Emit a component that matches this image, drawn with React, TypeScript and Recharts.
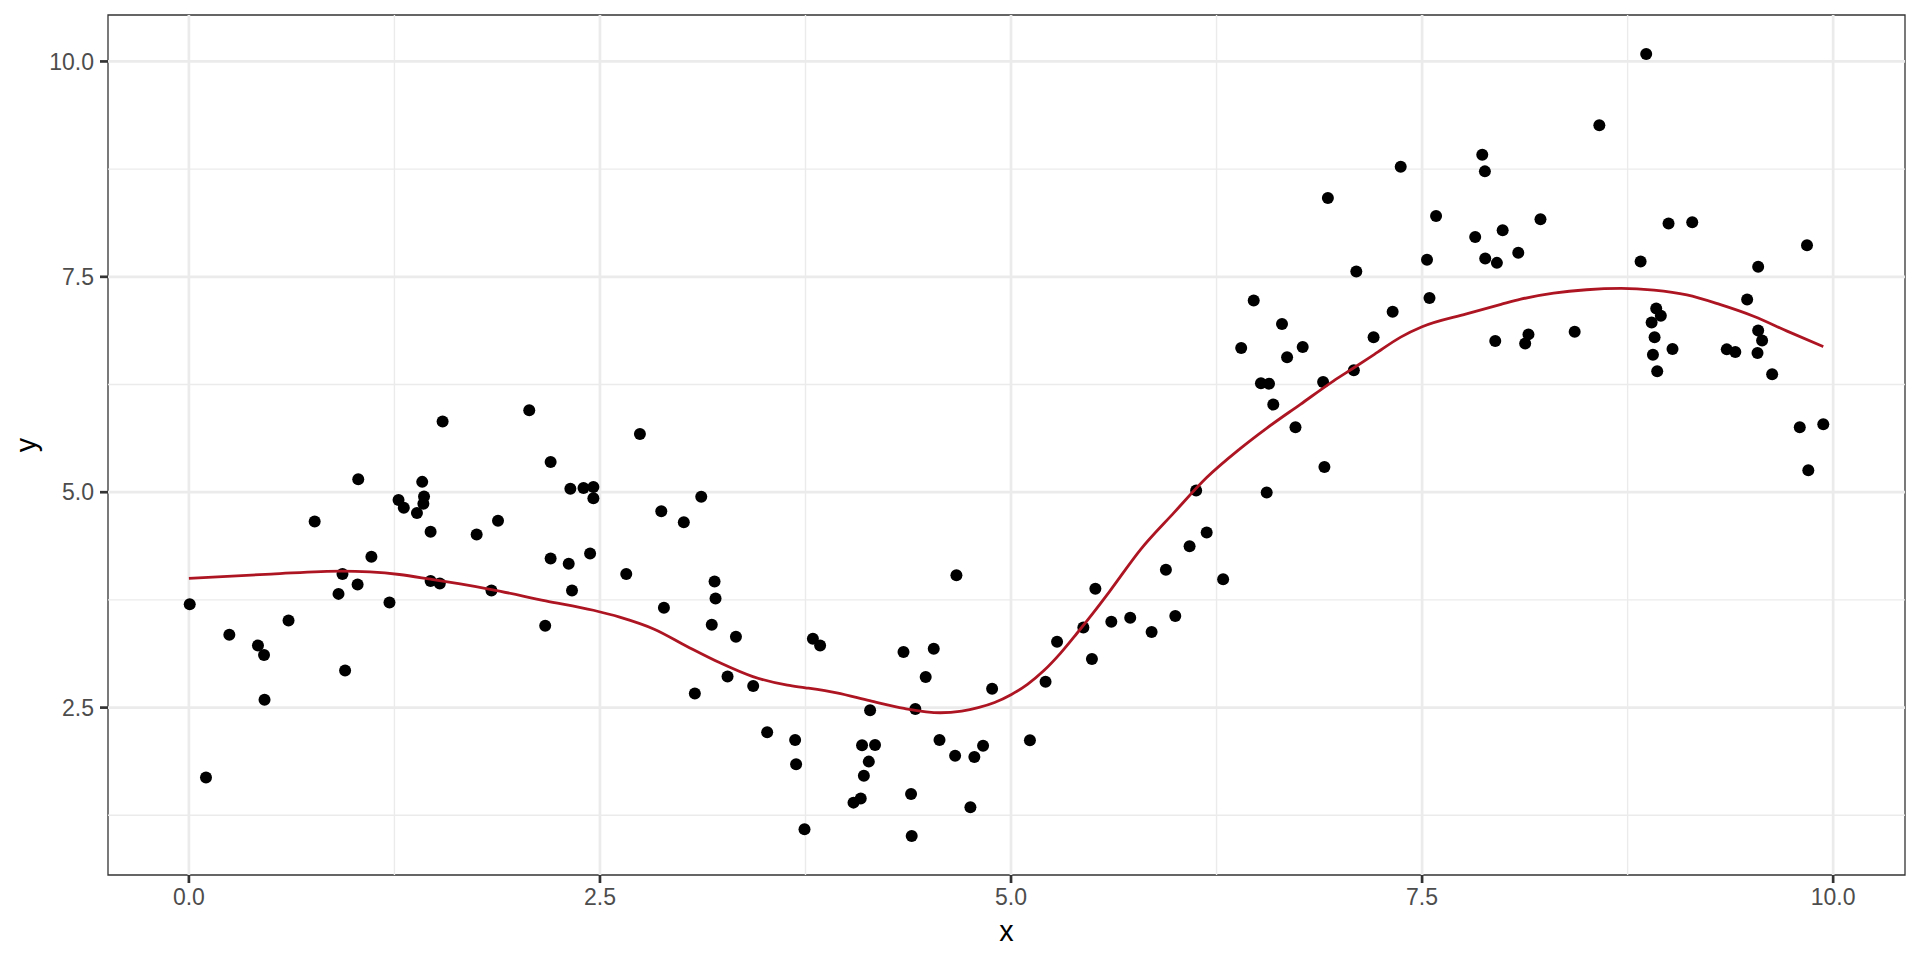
import { ScatterChart, Scatter, XAxis, YAxis, ReferenceLine, ReferenceArea } from 'recharts';

// points
const pointX = [
  0.005, 0.104, 0.246, 0.42, 0.457, 0.46, 0.606, 0.765, 0.91, 0.934,
  0.95, 1.026, 1.03, 1.11, 1.22, 1.275, 1.307, 1.387, 1.419, 1.43,
  1.426, 1.47, 1.47, 1.526, 1.543, 1.75, 1.84, 1.88, 2.07, 2.167,
  2.2, 2.2, 2.31, 2.32, 2.33, 2.4, 2.44, 2.46, 2.46, 2.66,
  2.743, 2.873, 2.889, 3.01, 3.077, 3.116, 3.18, 3.197, 3.203, 3.276,
  3.327, 3.432, 3.517, 3.687, 3.693, 3.744, 3.795, 3.839, 4.042, 4.086,
  4.094, 4.105, 4.135, 4.143, 4.173, 4.346, 4.392, 4.396, 4.418, 4.481,
  4.53, 4.565, 4.668, 4.66, 4.753, 4.777, 4.83, 4.885, 5.115, 5.21,
  5.28, 5.44, 5.492, 5.513, 5.61, 5.725, 5.855, 5.942, 5.999, 6.086,
  6.126, 6.19, 6.29, 6.4, 6.476, 6.52, 6.569, 6.555, 6.595, 6.648,
  6.679, 6.73, 6.774, 6.898, 6.906, 6.927, 7.085, 7.1, 7.205, 7.321,
  7.37, 7.53, 7.545, 7.585, 7.823, 7.866, 7.882, 7.884, 7.945, 7.955,
  7.99, 8.085, 8.127, 8.147, 8.22, 8.428, 8.578, 8.829, 8.863, 8.896,
  8.904, 8.914, 8.924, 8.93, 8.952, 8.999, 9.023, 9.143, 9.353, 9.405,
  9.477, 9.54, 9.544, 9.544, 9.568, 9.629, 9.797, 9.841, 9.849, 9.94,
];
const pointY = [
  3.7, 1.69, 3.345, 3.22, 3.11, 2.59, 3.51, 4.66, 3.82, 4.05,
  2.93, 3.93, 5.15, 4.25, 3.72, 4.91, 4.82, 4.76, 5.12, 4.95,
  4.865, 4.54, 3.97, 3.94, 5.82, 4.51, 3.86, 4.67, 5.95, 3.45,
  4.23, 5.35, 4.17, 5.04, 3.86, 5.05, 4.29, 5.06, 4.93, 4.05,
  5.676, 4.78, 3.66, 4.65, 2.665, 4.946, 3.462, 3.964, 3.767, 2.862,
  3.322, 2.75, 2.213, 2.124, 1.842, 1.088, 3.3, 3.222, 1.397, 1.444,
  2.062, 1.71, 1.873, 2.468, 2.066, 3.145, 1.498, 1.011, 2.484, 2.855,
  3.183, 2.124, 4.037, 1.94, 1.343, 1.927, 2.058, 2.72, 2.12, 2.8,
  3.264, 3.43, 3.063, 3.879, 3.496, 3.543, 3.377, 4.099, 3.562, 4.374,
  5.02, 4.532, 3.99, 6.674, 7.226, 6.265, 6.26, 4.998, 6.017, 6.952,
  6.566, 5.755, 6.685, 6.28, 5.292, 8.415, 6.415, 7.562, 6.8, 7.095,
  8.778, 7.697, 7.253, 8.207, 7.963, 8.917, 8.724, 7.712, 6.755, 7.662,
  8.04, 7.78, 6.727, 6.832, 8.168, 6.863, 9.258, 7.678, 10.085, 6.971,
  6.596, 6.8, 7.133, 6.403, 7.048, 8.118, 6.662, 8.134, 6.658, 6.627,
  7.237, 6.615, 6.878, 7.616, 6.762, 6.368, 5.753, 7.867, 5.255, 5.788,
];

// loess curve, read at intervals along the red line
const smoothX = [
  0, 0.5, 0.93, 1.1, 1.28, 1.47, 1.65, 1.84, 2.17, 2.46,
  2.62, 2.83, 3.03, 3.23, 3.43, 3.64, 3.75, 3.94, 4.14, 4.35,
  4.57, 4.7, 4.8, 4.9, 5.0, 5.1, 5.2, 5.3, 5.4, 5.5,
  5.6, 5.79, 5.99, 6.19, 6.39, 6.56, 6.76, 6.96, 7.09, 7.21,
  7.37, 7.5, 7.77, 7.98, 8.1, 8.3, 8.5, 8.71, 8.91, 9.11,
  9.31, 9.52, 9.72, 9.94,
];
const smoothY = [
  4.0, 4.05, 4.085, 4.075, 4.045, 3.99, 3.935, 3.87, 3.74, 3.63,
  3.55, 3.41, 3.21, 3.02, 2.86, 2.76, 2.73, 2.67, 2.58, 2.49,
  2.44, 2.46, 2.5, 2.56, 2.65, 2.77, 2.93, 3.13, 3.36, 3.6,
  3.85, 4.34, 4.76, 5.17, 5.5, 5.75, 6.02, 6.29, 6.45, 6.6,
  6.8, 6.92, 7.07, 7.18, 7.24, 7.31, 7.35, 7.365, 7.345, 7.29,
  7.18, 7.04, 6.87, 6.69,
];

const xTicks = [0, 2.5, 5, 7.5, 10];
const yTicks = [2.5, 5, 7.5, 10];
const xMinor = [1.25, 3.75, 6.25, 8.75];
const yMinor = [1.25, 3.75, 6.25, 8.75];

const X_DOMAIN: [number, number] = [-0.492, 10.437];
const Y_DOMAIN: [number, number] = [0.557, 10.539];

const points = pointX.map((x, i) => ({ x, y: pointY[i] }));
const smooth = smoothX.map((x, i) => ({ x, y: smoothY[i] }));

const FONT = '"Liberation Sans", Arial, Helvetica, sans-serif';
const GRID = '#EBEBEB';
const tickStyle = { fill: '#4D4D4D', fontSize: 23, fontFamily: FONT };

const Dot = (props: any) => <circle cx={props.cx} cy={props.cy} r={6} fill="#000" />;
const NoDot = () => <g />;

export default function App() {
  return (
    <div style={{ position: 'absolute', left: 0, top: 0, width: 1920, height: 960, background: '#fff' }}>
      <ScatterChart width={1920} height={960} margin={{ top: 15, right: 15, bottom: 0, left: 0 }}>
        <XAxis
          type="number"
          dataKey="x"
          domain={X_DOMAIN}
          allowDataOverflow
          ticks={xTicks}
          tickFormatter={(v: number) => v.toFixed(1)}
          height={85}
          axisLine={false}
          tickSize={8}
          tickMargin={6}
          tickLine={{ stroke: '#333333', strokeWidth: 2.7 }}
          tick={tickStyle}
        />
        <YAxis
          type="number"
          dataKey="y"
          domain={Y_DOMAIN}
          allowDataOverflow
          ticks={yTicks}
          tickFormatter={(v: number) => v.toFixed(1)}
          width={108}
          axisLine={false}
          tickSize={8}
          tickMargin={6}
          tickLine={{ stroke: '#333333', strokeWidth: 2.7 }}
          tick={tickStyle}
        />
        {xMinor.map((v) => (
          <ReferenceLine key={'xm' + v} x={v} stroke={GRID} strokeWidth={1.4} />
        ))}
        {yMinor.map((v) => (
          <ReferenceLine key={'ym' + v} y={v} stroke={GRID} strokeWidth={1.4} />
        ))}
        {xTicks.map((v) => (
          <ReferenceLine key={'xM' + v} x={v} stroke={GRID} strokeWidth={2.7} />
        ))}
        {yTicks.map((v) => (
          <ReferenceLine key={'yM' + v} y={v} stroke={GRID} strokeWidth={2.7} />
        ))}
        <Scatter data={points} shape={Dot} isAnimationActive={false} />
        <Scatter
          data={smooth}
          shape={NoDot}
          line={{ stroke: '#AD1523', strokeWidth: 2.8 }}
          lineType="joint"
          lineJointType="monotoneX"
          isAnimationActive={false}
        />
        <ReferenceArea
          x1={X_DOMAIN[0]}
          x2={X_DOMAIN[1]}
          y1={Y_DOMAIN[0]}
          y2={Y_DOMAIN[1]}
          fill="none"
          fillOpacity={0}
          stroke="#333333"
          strokeWidth={1.3}
          ifOverflow="visible"
        />
      </ScatterChart>
      <svg width={1920} height={960} style={{ position: 'absolute', left: 0, top: 0, pointerEvents: 'none' }}>
        <text x={1006.5} y={941} textAnchor="middle" fontSize={28.75} fontFamily={FONT} fill="#000">
          x
        </text>
        <text x={36} y={445} textAnchor="middle" fontSize={28.75} fontFamily={FONT} fill="#000" transform="rotate(-90 36 445)">
          y
        </text>
      </svg>
    </div>
  );
}
